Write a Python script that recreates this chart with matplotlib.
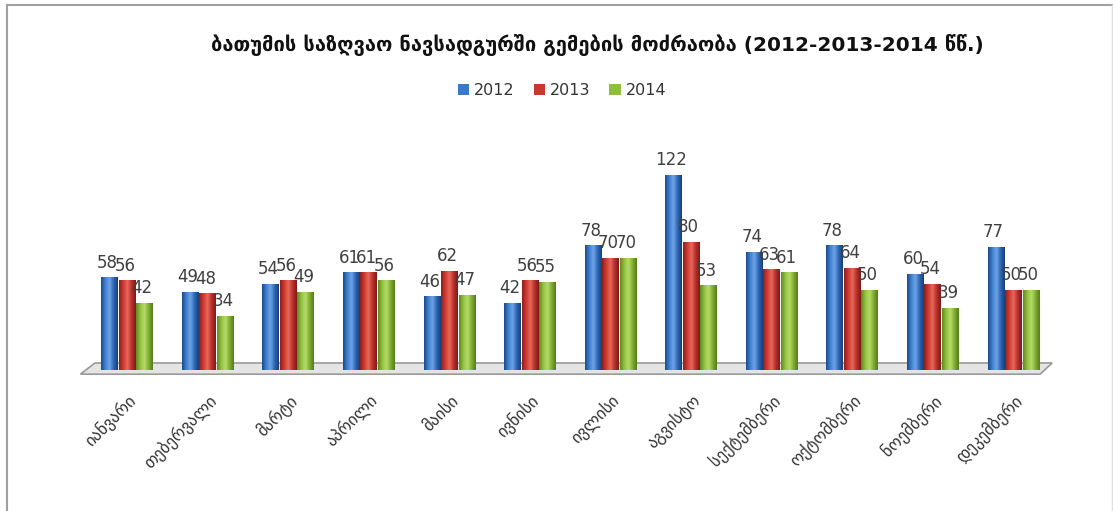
import numpy as np
import matplotlib.pyplot as plt
from matplotlib.colors import LinearSegmentedColormap
from matplotlib.patches import Polygon, Patch
from matplotlib.lines import Line2D

plt.rcParams['font.family'] = ['DejaVu Sans']

months = ['იანვარი', 'თებერვალი', 'მარტი', 'აპრილი', 'მაისი', 'ივნისი',
          'ივლისი', 'აგვისტო', 'სექტემბერი', 'ოქტომბერი', 'ნოემბერი', 'დეკემბერი']
years = ['2012', '2013', '2014']
v2012 = [58, 49, 54, 61, 46, 42, 78, 122, 74, 78, 60, 77]
v2013 = [56, 48, 56, 61, 62, 56, 70, 80, 63, 64, 54, 50]
v2014 = [42, 34, 49, 56, 47, 55, 70, 53, 61, 50, 39, 50]

# dark edge -> highlight -> dark edge, for a rounded column look
shades = {
    '2012': ['#1b4a8a', '#3f7fd0', '#6ea4e6', '#2d66b4', '#173f78'],
    '2013': ['#8e1f1a', '#cf3a30', '#e8685c', '#b8302a', '#7e1a16'],
    '2014': ['#5f8a1e', '#93c140', '#b5db6a', '#7fae33', '#557c1a'],
}
flat = {'2012': '#3a78c9', '2013': '#c9372e', '2014': '#8fbd3c'}

fig = plt.figure(figsize=(11.13, 5.11), dpi=100)
ax = fig.add_axes([0.0701, 0.2665, 0.876, 0.479])

x = np.arange(len(months)) + 0.11
w = 0.21
step = 0.217
grad = np.linspace(0, 1, 64).reshape(1, -1)

# floor slab under the columns
floor = Polygon([(-0.47, -2.6), (11.44, -2.6), (11.59, 4.4), (-0.29, 4.4)],
                closed=True, facecolor='#e4e4e4', edgecolor='#9a9a9a', lw=1.2, zorder=1)
ax.add_patch(floor)

for i, (yr, vals) in enumerate(zip(years, [v2012, v2013, v2014])):
    cmap = LinearSegmentedColormap.from_list('c' + yr, shades[yr])
    bars = ax.bar(x + (i - 1) * step, vals, width=w, color='none', zorder=3)
    for b, v in zip(bars, vals):
        x0 = b.get_x()
        im = ax.imshow(grad, extent=[x0, x0 + w, 0, v], cmap=cmap,
                       aspect='auto', zorder=2, interpolation='bilinear')
        im.set_clip_path(b)
        ax.text(x0 + w / 2 - 0.03, v + 3.5, str(v), ha='center', va='bottom',
                fontsize=12, color='#404040', zorder=4)

ax.set_xlim(-0.5, 11.6)
ax.set_ylim(-3, 150)
ax.set_xticks(x)
ax.set_xticklabels(months, rotation=45, ha='right', rotation_mode='anchor',
                   fontsize=12, color='#333333')
ax.tick_params(axis='x', length=0, pad=12)
ax.set_yticks([])
for s in ax.spines.values():
    s.set_visible(False)

fig.text(0.537, 0.912, 'ბათუმის საზღვაო ნავსადგურში გემების მოძრაობა (2012-2013-2014 წწ.)',
         ha='center', va='center', fontsize=14.5, fontweight='bold', color='#111111')

handles = [Patch(facecolor=flat[y], edgecolor='none') for y in years]
fig.legend(handles, years, loc='center', bbox_to_anchor=(0.505, 0.823), ncol=3,
           frameon=False, fontsize=11.5, handlelength=0.7, handleheight=0.7,
           handletextpad=0.3, columnspacing=1.2, labelcolor='#333333')

# chart frame
fig.add_artist(Line2D([0.006, 0.006], [0.0, 0.99], transform=fig.transFigure,
                      color='#a0a0a0', lw=1.5))
fig.add_artist(Line2D([0.006, 1.0], [0.99, 0.99], transform=fig.transFigure,
                      color='#a0a0a0', lw=1.5))
fig.add_artist(Line2D([0.999, 0.999], [0.0, 0.99], transform=fig.transFigure,
                      color='#e0e0e0', lw=1))

fig.savefig('out.png', dpi=100)
